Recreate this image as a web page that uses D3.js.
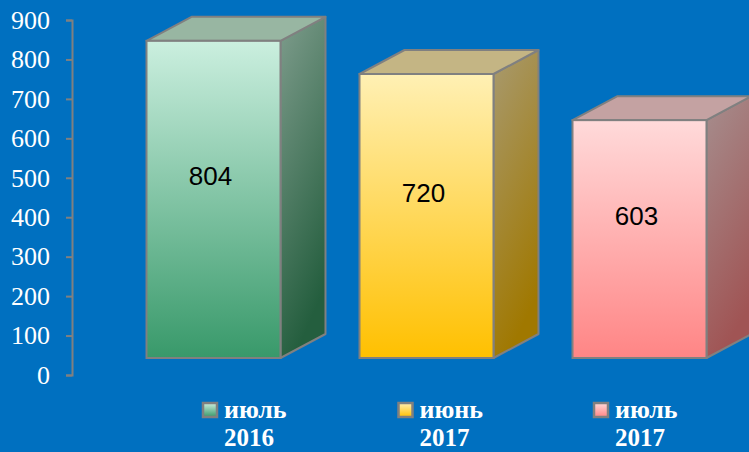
<!DOCTYPE html>
<html>
<head>
<meta charset="utf-8">
<script src="https://cdn.jsdelivr.net/npm/d3@7"></script>
<style>
  html, body { margin: 0; padding: 0; background: #0070C0; overflow: hidden; }
  svg { display: block; }
</style>
</head>
<body>
<svg></svg>
<script>
'use strict'

const width = 749,
  height = 452

// data
const categories = ['июль 2016', 'июнь 2017', 'июль 2017']
const legendLine1 = ['июль', 'июнь', 'июль']
const legendLine2 = ['2016', '2017', '2017']
const values = [804, 720, 603]
const yTicks = [0, 100, 200, 300, 400, 500, 600, 700, 800, 900]

// colours per bar: front top/bottom, side top/bottom, roof
const palettes = [
  { frontTop: '#CBEFDF', frontBot: '#38996A', sideTop: '#7E9C8C', sideBot: '#245E3E', roof: '#98B6A2' },
  { frontTop: '#FFF0B4', frontBot: '#FFC000', sideTop: '#A89A70', sideBot: '#A07800', roof: '#C4B584' },
  { frontTop: '#FFDADA', frontBot: '#FF8585', sideTop: '#A68E8E', sideBot: '#A05454', roof: '#C4A2A2' }
]

const depthX = 45,
  depthY = -24,
  floorShift = 17

const serif = '"Liberation Serif", "Times New Roman", serif'

const svg = d3.select('svg')
  .attr('width', width)
  .attr('height', height)

const yScale = d3.scaleLinear()
  .domain([0, 900])
  .range([375, 20])

const xScale = d3.scaleBand()
  .domain(categories)
  .range([107, 746])
  .paddingInner(0.371)
  .paddingOuter(0.1855)

// legend entries sit on their own, tighter spacing
const legendScale = d3.scalePoint()
  .domain(categories)
  .range([203, 594])

// gradients
const defs = svg.append('defs')
palettes.forEach((p, i) => {
  const f = defs.append('linearGradient')
    .attr('id', 'front' + i)
    .attr('x1', 0).attr('y1', 0).attr('x2', 0).attr('y2', 1)
  f.append('stop').attr('offset', '0%').attr('stop-color', p.frontTop)
  f.append('stop').attr('offset', '100%').attr('stop-color', p.frontBot)

  const s = defs.append('linearGradient')
    .attr('id', 'side' + i)
    .attr('x1', 0).attr('y1', 0).attr('x2', 0.3).attr('y2', 1)
  s.append('stop').attr('offset', '0%').attr('stop-color', p.sideTop)
  s.append('stop').attr('offset', '100%').attr('stop-color', p.sideBot)
})

// y axis
const axis = svg.append('g')
  .attr('class', 'y-axis')
  .attr('transform', 'translate(72,0)')
  .call(d3.axisLeft(yScale).tickValues(yTicks).tickSize(6).tickPadding(16))

axis.attr('font-size', null).attr('font-family', null)
axis.select('.domain').attr('stroke', '#808080').attr('stroke-width', 2)
axis.selectAll('.tick line').attr('stroke', '#808080').attr('stroke-width', 2)
axis.selectAll('.tick text')
  .attr('fill', '#ffffff')
  .attr('font-family', serif)
  .attr('font-size', 26)

// bars
const bars = svg.append('g')
  .selectAll('g')
  .data(values)
  .enter()
  .append('g')

const pts = (arr) => arr.map(p => p.join(',')).join(' ')

bars.each(function (d, i) {
  const g = d3.select(this)
  const x0 = xScale(categories[i])
  const x1 = x0 + xScale.bandwidth()
  const yb = yScale(0) - floorShift
  const yt = yScale(d) - floorShift

  // side
  g.append('polygon')
    .attr('points', pts([[x1, yt], [x1 + depthX, yt + depthY], [x1 + depthX, yb + depthY], [x1, yb]]))
    .attr('fill', 'url(#side' + i + ')')
    .attr('stroke', '#808080')
    .attr('stroke-width', 2)
    .attr('stroke-linejoin', 'round')

  // roof
  g.append('polygon')
    .attr('points', pts([[x0, yt], [x0 + depthX, yt + depthY], [x1 + depthX, yt + depthY], [x1, yt]]))
    .attr('fill', palettes[i].roof)
    .attr('stroke', '#808080')
    .attr('stroke-width', 2)
    .attr('stroke-linejoin', 'round')

  // front
  g.append('rect')
    .attr('x', x0)
    .attr('y', yt)
    .attr('width', x1 - x0)
    .attr('height', yb - yt)
    .attr('fill', 'url(#front' + i + ')')
    .attr('stroke', '#808080')
    .attr('stroke-width', 2)

  // value label
  g.append('text')
    .attr('x', (x0 + x1) / 2 - 3)
    .attr('y', (yt + yb) / 2 - 14)
    .attr('text-anchor', 'middle')
    .attr('font-family', '"Liberation Sans", Arial, sans-serif')
    .attr('font-size', 26)
    .attr('fill', '#000000')
    .text(d)
})

// legend
const legend = svg.append('g')
  .selectAll('g')
  .data(categories)
  .enter()
  .append('g')
  .attr('transform', d => 'translate(' + legendScale(d) + ',0)')

legend.append('rect')
  .attr('x', 0)
  .attr('y', 403)
  .attr('width', 14)
  .attr('height', 14)
  .attr('fill', (d, i) => 'url(#front' + i + ')')
  .attr('stroke', '#808080')
  .attr('stroke-width', 2.5)

legend.append('text')
  .attr('x', 21)
  .attr('y', 418)
  .attr('fill', '#ffffff')
  .attr('font-family', serif)
  .attr('font-size', 26)
  .attr('font-weight', 'bold')
  .text((d, i) => legendLine1[i])

legend.append('text')
  .attr('x', 21)
  .attr('y', 446)
  .attr('fill', '#ffffff')
  .attr('font-family', serif)
  .attr('font-size', 25)
  .attr('font-weight', 'bold')
  .text((d, i) => legendLine2[i])
</script>
</body>
</html>
